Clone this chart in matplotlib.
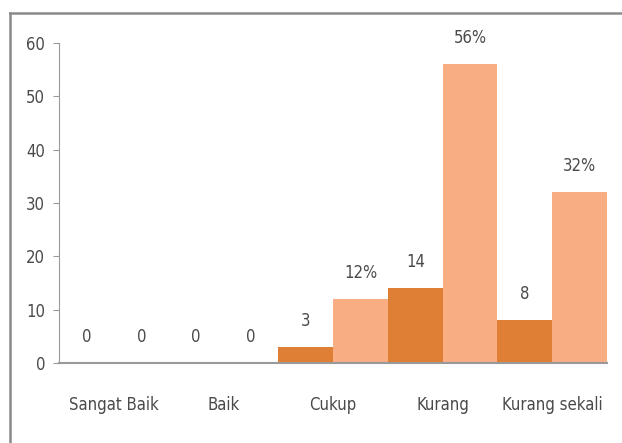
import matplotlib.pyplot as plt
import numpy as np

categories = ['Sangat Baik', 'Baik', 'Cukup', 'Kurang', 'Kurang sekali']
jumlah = [0, 0, 3, 14, 8]
persen = [0, 0, 12, 56, 32]
label_jumlah = ['0', '0', '3', '14', '8']
label_persen = ['0', '0', '12%', '56%', '32%']

plt.rcParams['font.family'] = ['DejaVu Sans']
plt.rcParams['font.stretch'] = 'condensed'
txt = '#4a4a4a'

fig = plt.figure(figsize=(6.22, 4.43), dpi=100)
ax = fig.add_axes([0.095, 0.1806, 0.881, 0.7223])

x = np.arange(len(categories))
w = 0.5
b1 = ax.bar(x - w / 2, jumlah, w, color='#DF7F36')
b2 = ax.bar(x + w / 2, persen, w, color='#F8AD83')

for rect, lab in zip(list(b1) + list(b2), label_jumlah + label_persen):
    ax.annotate(lab, (rect.get_x() + rect.get_width() / 2, rect.get_height()),
                xytext=(0, 19), textcoords='offset points', ha='center', va='center',
                fontsize=12, color=txt, fontstretch='condensed')

ax.set_xlim(-0.5, 4.5)
ax.set_ylim(0, 60)
ax.set_yticks(range(0, 61, 10))
ax.set_xticks(x)
ax.set_xticklabels(categories, fontstretch='condensed')
ax.tick_params(axis='x', length=0, pad=24, labelsize=12, labelcolor=txt)
ax.tick_params(axis='y', length=4, color='#999999', labelsize=12, labelcolor=txt, pad=6)
for t in ax.get_yticklabels():
    t.set_fontstretch('condensed')

for s in ['top', 'right']:
    ax.spines[s].set_visible(False)
ax.spines['left'].set_color('#999999')
ax.spines['bottom'].set_color('#999999')
ax.spines['bottom'].set_linewidth(1.5)

# grey frame around the picture
fig.add_artist(plt.Line2D([0.016, 0.016], [0, 0.971], color='#8a8a8a', lw=1.8))
fig.add_artist(plt.Line2D([0.016, 1.0], [0.971, 0.971], color='#8a8a8a', lw=1.8))

plt.savefig('out.png', dpi=100)
